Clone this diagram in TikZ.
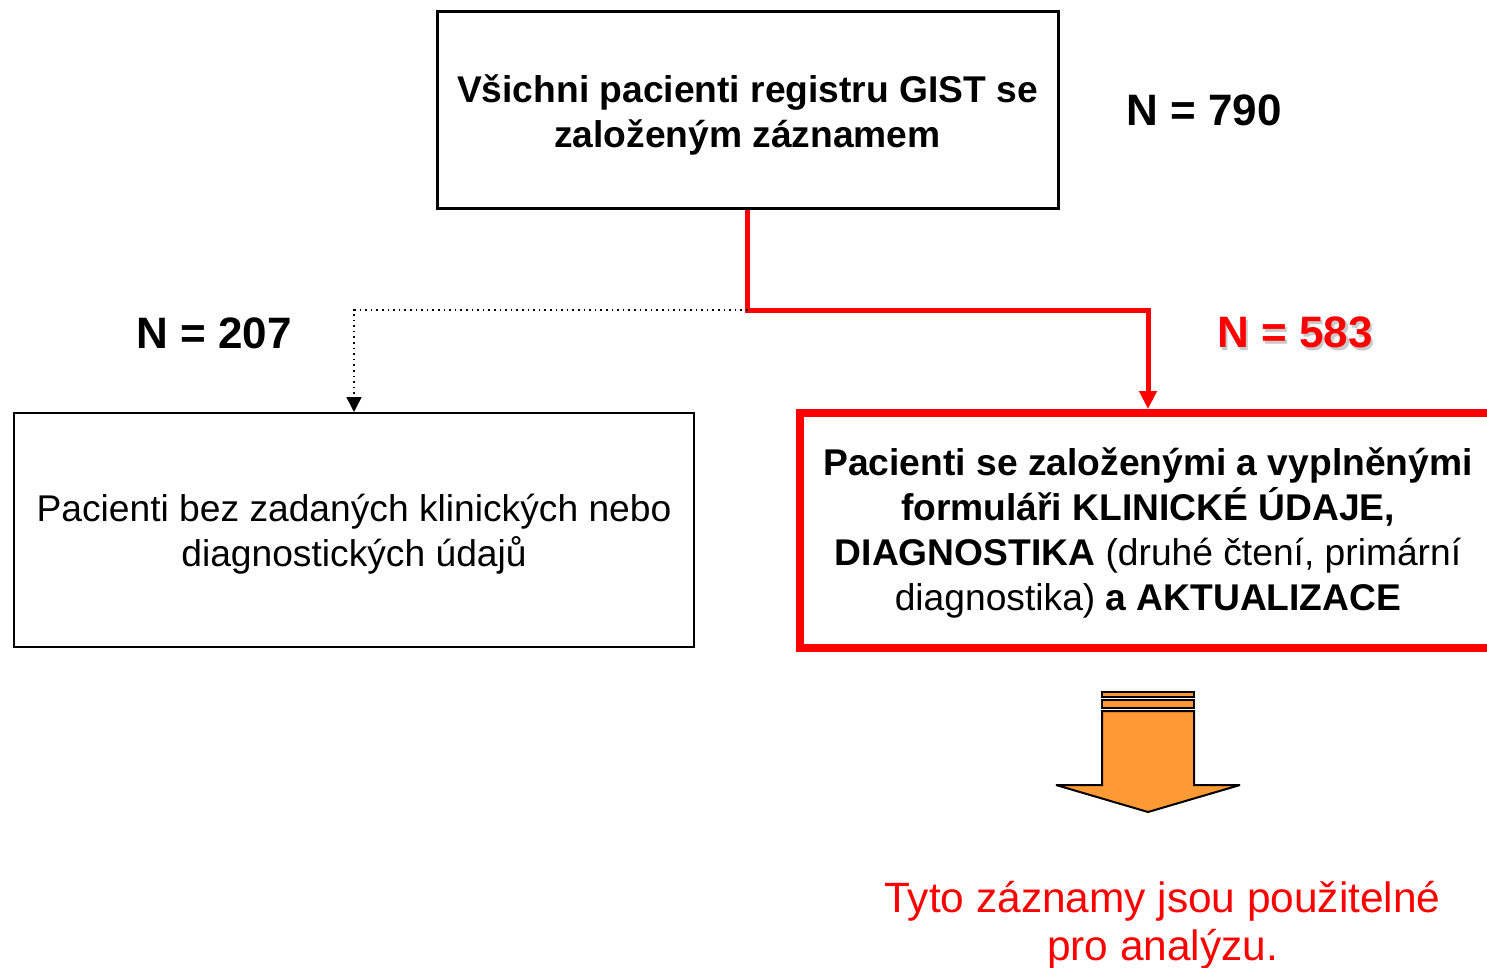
\documentclass[tikz,border=0pt]{standalone}
\usepackage{fontspec}
\setmainfont{Liberation Sans}
\usetikzlibrary{arrows.meta}
\definecolor{myred}{RGB}{255,0,0}
\definecolor{myorange}{RGB}{255,153,51}
\tikzset{
  boxtext/.style={font=\fontsize{18.6}{22.5}\selectfont, align=center, inner sep=0pt},
  countlbl/.style={font=\fontsize{22}{26}\selectfont\bfseries, inner sep=0pt},
  redline/.style={draw=myred, line width=2.5pt, -{Triangle[length=9pt,width=8.5pt]}},
  dotline/.style={draw=black, line width=0.8pt, dotted, -{Triangle[length=7.5pt,width=7.5pt]}},
}
\begin{document}
\begin{tikzpicture}[x=0.5pt,y=-0.5pt]
\useasboundingbox (0,0) rectangle (1487,968);
\clip (0,0) rectangle (1487,968);
% boxes
\node[draw=black, line width=1.5pt, minimum width=310.5pt, minimum height=98.5pt, inner sep=0pt] (top) at (747.5,110.5) {};
\node[boxtext, font=\fontsize{18.6}{22.5}\selectfont\bfseries] (topt) at (747.5,115)
  {Všichni pacienti registru GIST se\\založeným záznamem};
\node[draw=black, line width=1pt, minimum width=340pt, minimum height=117pt, inner sep=0pt] (lb) at (354,530) {};
\node[boxtext] (lbt) at (354,534)
  {Pacienti bez zadaných klinických nebo\\diagnostických údajů};
\node[draw=myred, line width=4pt, minimum width=351.5pt, minimum height=117.5pt, inner sep=0pt] (rb) at (1151.5,530.5) {};
\node[boxtext] (rbt) at (1148,533)
  {\textbf{Pacienti se založenými a vyplněnými}\\
   \textbf{formuláři KLINICKÉ ÚDAJE,}\\
   \textbf{DIAGNOSTIKA} (druhé čtení, primární\\
   diagnostika) \textbf{a AKTUALIZACE}};
% labels
\node[countlbl] (n790) at (1204,110) {N = 790};
\node[countlbl] (n207) at (214,333) {N = 207};
\node[countlbl, text=black!30, opacity=0.7] (n583s) at (1297.5,335) {N = 583};
\node[countlbl, text=myred] (n583) at (1295,332) {N = 583};
% connectors
\coordinate (j) at (747.5,310);
\coordinate (rbin) at (1148,409);
\draw[redline] (top.south) -- (j) -| (rbin);
\draw[dotline] (j) -| (lb.north);
% orange arrow
\filldraw[fill=myorange, draw=black, line width=1pt] (1102,692) rectangle (1194,697);
\filldraw[fill=myorange, draw=black, line width=1pt] (1102,700) rectangle (1194,708);
\filldraw[fill=myorange, draw=black, line width=1pt, miter limit=4]
  (1102,711) -- (1194,711) -- (1194,785) -- (1240,785) -- (1148,812) -- (1056,785) -- (1102,785) -- cycle;
% bottom text
\node[boxtext, text=myred, font=\fontsize{21.2}{24}\selectfont] (res) at (1162.5,925)
  {Tyto záznamy jsou použitelné\\pro analýzu.};
\end{tikzpicture}
\end{document}
